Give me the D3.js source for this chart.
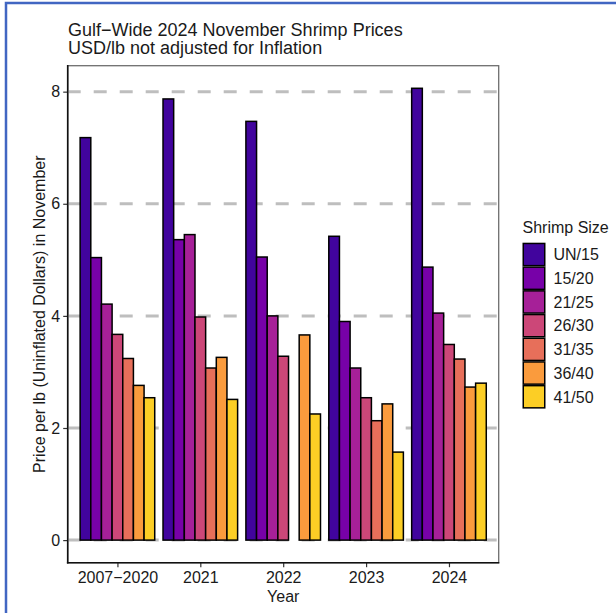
<!DOCTYPE html>
<html>
<head>
<meta charset="utf-8">
<script src="https://cdn.jsdelivr.net/npm/d3@7"></script>
<style>
  html, body { margin: 0; padding: 0; background: #fff; }
  svg { display: block; }
  text { font-family: "Liberation Sans", Arial, sans-serif; fill: #1a1a1a; }
</style>
</head>
<body>
<svg id="chart" width="616" height="613"></svg>
<script>
// ---- data ----
const years = ["2007\u22122020", "2021", "2022", "2023", "2024"];
const sizes = ["UN/15", "15/20", "21/25", "26/30", "31/35", "36/40", "41/50"];
const priceUN15 = [7.18, 7.87, 7.47, 5.42, 8.06];
const price1520 = [5.04, 5.36, 5.05, 3.90, 4.87];
const price2125 = [4.21, 5.45, 4.00, 3.07, 4.05];
const price2630 = [3.67, 3.98, 3.28, 2.54, 3.49];
const price3135 = [3.24, 3.07, null, 2.13, 3.23];
const price3640 = [2.76, 3.26, 3.66, 2.43, 2.73];
const price4150 = [2.54, 2.51, 2.25, 1.57, 2.80];
const yTicks = [0, 2, 4, 6, 8];
const titleLines = ["Gulf\u2212Wide 2024 November Shrimp Prices", "USD/lb not adjusted for Inflation"];
const xTitle = "Year";
const yTitle = "Price per lb (Uninflated Dollars) in November";
const legendTitle = "Shrimp Size";

const seriesValues = [priceUN15, price1520, price2125, price2630, price3135, price3640, price4150];
const rows = [];
sizes.forEach((s, si) => years.forEach((y, yi) => {
  const v = seriesValues[si][yi];
  if (v != null) rows.push({ year: y, size: s, value: v });
}));

// ---- layout ----
const svg = d3.select("#chart");
const panel = { left: 67.7, right: 498.7, top: 65.7, bottom: 562.7 };

const colors = d3.scaleOrdinal()
  .domain(sizes)
  .range(sizes.map((d, i) => d3.interpolatePlasma(0.1 + i * (0.8 / 6))));

const x = d3.scalePoint().domain(years).range([panel.left, panel.right]).padding(0.6);
const step = x.step();
const xInner = d3.scaleBand().domain(sizes).range([-0.45 * step, 0.45 * step]).padding(0);

const maxV = d3.max(rows, d => d.value);
const ex = maxV * 0.05;
const y = d3.scaleLinear().domain([-ex, maxV + ex]).range([panel.bottom, panel.top]);

// outer blue frame
svg.append("rect").attr("x", 0).attr("y", 0).attr("width", 616).attr("height", 613).attr("fill", "#fff");
svg.append("rect").attr("x", 6).attr("y", 3).attr("width", 700).attr("height", 700)
  .attr("fill", "none").attr("stroke", "#4166c2").attr("stroke-width", 2.5);

// panel border
svg.append("rect")
  .attr("x", panel.left).attr("y", panel.top)
  .attr("width", panel.right - panel.left).attr("height", panel.bottom - panel.top)
  .attr("fill", "#fff").attr("stroke", "#6e6e6e").attr("stroke-width", 1.3);

// gridlines
svg.append("g").selectAll("line").data(yTicks).join("line")
  .attr("x1", panel.left).attr("x2", panel.right)
  .attr("y1", d => y(d)).attr("y2", d => y(d))
  .attr("stroke", "#bebebe").attr("stroke-width", 3)
  .attr("stroke-dasharray", "13,13");

// bars
svg.append("g").selectAll("rect").data(rows).join("rect")
  .attr("x", d => x(d.year) + xInner(d.size))
  .attr("width", xInner.bandwidth())
  .attr("y", d => y(d.value))
  .attr("height", d => y(0) - y(d.value))
  .attr("fill", d => colors(d.size))
  .attr("stroke", "#000").attr("stroke-width", 1.5);

// axes
const yAxis = d3.axisLeft(y).tickValues(yTicks).tickSize(4.5).tickPadding(3);
const gy = svg.append("g").attr("transform", `translate(${panel.left},0)`).call(yAxis);
gy.select(".domain").remove();
gy.selectAll(".tick line").attr("stroke", "#333").attr("stroke-width", 1.2);
gy.selectAll(".tick text").attr("font-size", 16).attr("font-family", "Liberation Sans, Arial, sans-serif").attr("fill", "#1a1a1a");

const xAxis = d3.axisBottom(x).tickSize(4.5).tickPadding(4);
const gx = svg.append("g").attr("transform", `translate(0,${panel.bottom})`).call(xAxis);
gx.select(".domain").remove();
gx.selectAll(".tick line").attr("stroke", "#333").attr("stroke-width", 1.2);
gx.selectAll(".tick text").attr("font-size", 16).attr("font-family", "Liberation Sans, Arial, sans-serif").attr("fill", "#1a1a1a");

// axis lines (left + bottom)
svg.append("line").attr("x1", panel.left).attr("x2", panel.left)
  .attr("y1", panel.top - 0.6).attr("y2", panel.bottom + 0.8)
  .attr("stroke", "#111").attr("stroke-width", 1.6);
svg.append("line").attr("x1", panel.left - 0.8).attr("x2", panel.right + 0.6)
  .attr("y1", panel.bottom).attr("y2", panel.bottom)
  .attr("stroke", "#111").attr("stroke-width", 1.6);

// title
svg.append("g").selectAll("text").data(titleLines).join("text")
  .attr("x", 68).attr("y", (d, i) => 36 + i * 18.3)
  .attr("font-size", 18).text(d => d);

// axis titles
svg.append("text").attr("x", (panel.left + panel.right) / 2).attr("y", 601.5)
  .attr("text-anchor", "middle").attr("font-size", 16).text(xTitle);
svg.append("text")
  .attr("transform", `translate(45,${(panel.top + panel.bottom) / 2}) rotate(-90)`)
  .attr("text-anchor", "middle").attr("font-size", 16).text(yTitle);

// legend
const lg = svg.append("g").attr("transform", "translate(522.5,0)");
lg.append("text").attr("x", 0).attr("y", 233.3).attr("font-size", 16).text(legendTitle);
const keyH = 23.7, keyTop = 242.7;
const item = lg.selectAll("g.item").data(sizes).join("g").attr("class", "item")
  .attr("transform", (d, i) => `translate(0,${keyTop + i * keyH})`);
item.append("rect").attr("x", 0.75).attr("y", 0.75).attr("width", 21.5).attr("height", keyH - 1.5)
  .attr("fill", d => colors(d)).attr("stroke", "#000").attr("stroke-width", 1.5);
item.append("text").attr("x", 31).attr("y", keyH / 2).attr("dy", "0.36em")
  .attr("font-size", 16).text(d => d);
</script>
</body>
</html>
